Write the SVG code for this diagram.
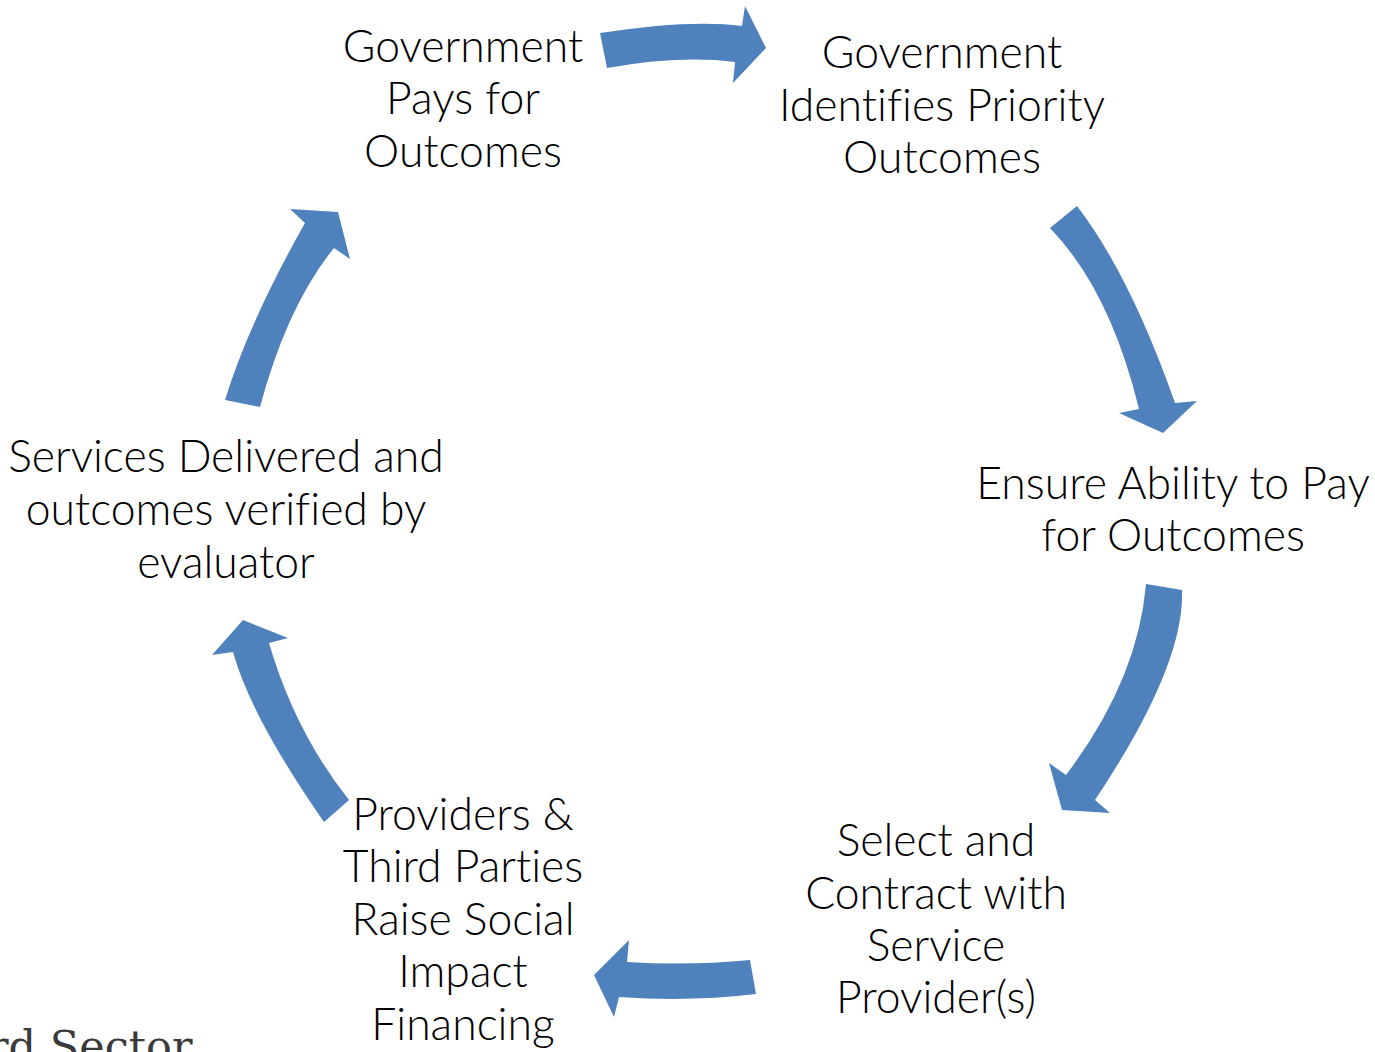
<svg xmlns="http://www.w3.org/2000/svg" width="1375" height="1052" viewBox="0 0 1375 1052">
<style>
.arr{fill:#4F81BD;}
.t{font-family:Lato,"Open Sans","Liberation Sans",sans-serif;font-weight:300;font-size:44.5px;fill:#000;text-anchor:middle;font-variant-ligatures:none;}
.s{font-family:"DejaVu Serif","Liberation Serif",serif;font-size:43px;fill:#3a3a3a;}
</style>
<rect width="1375" height="1052" fill="#fff"/>
<g id="connectors">
<path class="arr" d="M600,33 Q690,19 742,26 L745,6 L766,48 L733,83 L735,62 Q680,55 607,68 Z"/>
<path class="arr" d="M1077,206 Q1130,275 1175,403 L1197,401 L1163,433 L1119,413 L1139,409 Q1110,290 1050,228 Z"/>
<path class="arr" d="M1146,584 Q1138,680 1066,775 L1049,763 L1062,810 L1110,813 L1095,800 Q1185,665 1182,590 Z"/>
<path class="arr" d="M750,960 Q690,966 627,962 L629,940 L594,975 L614,1017 L619,997 Q690,1002 756,994 Z"/>
<path class="arr" d="M349,800 Q295,732 269,643 L288,638 L243,620 L212,655 L233,652 Q251,717 324,822 Z"/>
<path class="arr" d="M260,407 Q287,306 334,248 L350,259 L338,212 L290,209 L305,223 Q249,322 225,400 Z"/>
</g>
<g id="node1"><text class="t" x="463" y="62">Government</text><text class="t" x="463" y="114">Pays for</text><text class="t" x="463" y="167">Outcomes</text></g>
<g id="node2"><text class="t" x="942" y="68">Government</text><text class="t" x="942" y="121">Identifies Priority</text><text class="t" x="942" y="173">Outcomes</text></g>
<g id="node3"><text class="t" x="1173" y="499">Ensure Ability to Pay</text><text class="t" x="1173" y="551">for Outcomes</text></g>
<g id="node4"><text class="t" x="936" y="856">Select and</text><text class="t" x="936" y="909">Contract with</text><text class="t" x="936" y="961">Service</text><text class="t" x="936" y="1013">Provider(s)</text></g>
<g id="node5"><text class="t" x="463" y="830">Providers &amp;</text><text class="t" x="463" y="882">Third Parties</text><text class="t" x="463" y="935">Raise Social</text><text class="t" x="463" y="987">Impact</text><text class="t" x="463" y="1040">Financing</text></g>
<g id="node6"><text class="t" x="226" y="472">Services Delivered and</text><text class="t" x="226" y="525">outcomes verified by</text><text class="t" x="226" y="578">evaluator</text></g>
<text class="s" x="-12" y="1061">rd Sector</text>
</svg>
